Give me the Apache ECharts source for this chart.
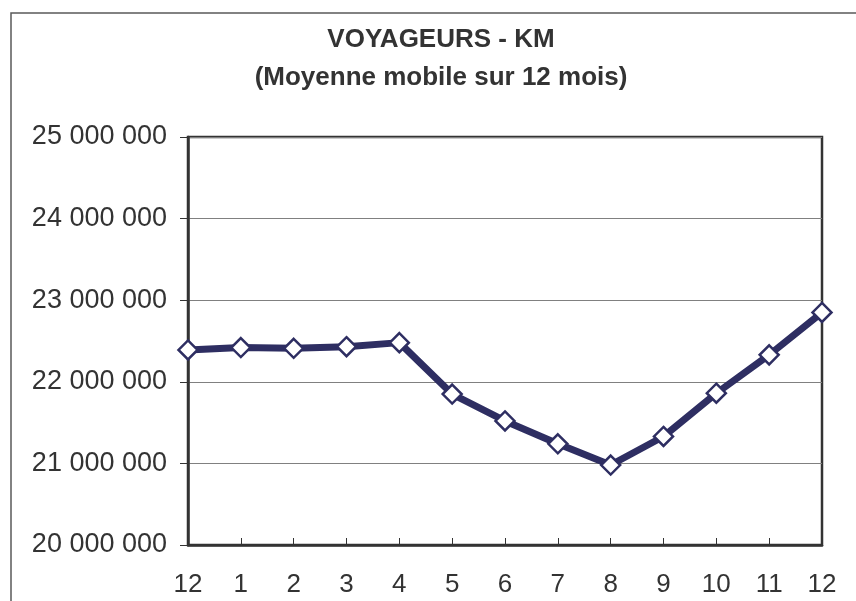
<!DOCTYPE html>
<html>
<head>
<meta charset="utf-8">
<script src="https://cdn.jsdelivr.net/npm/echarts@6/dist/echarts.min.js"></script>
<style>
  html, body { margin: 0; padding: 0; background: #fff; }
  #myChart { width: 856px; height: 601px; }
</style>
</head>
<body>
<div id="myChart"></div>
<script>
const months = ['12', '1', '2', '3', '4', '5', '6', '7', '8', '9', '10', '11', '12']
const voyageursKm = [22390000, 22420000, 22410000, 22430000, 22480000, 21850000, 21520000, 21240000, 20980000, 21330000, 21860000, 22330000, 22850000]
const yTicks = [20000000, 21000000, 22000000, 23000000, 24000000, 25000000]

const fmt = v => String(v).replace(/\B(?=(\d{3})+(?!\d))/g, ' ')

let myChart = echarts.init(document.getElementById('myChart'))
let option = {
    animation: false,
    textStyle: { fontFamily: 'Liberation Sans, Arial, sans-serif' },
    title: {
        text: 'VOYAGEURS - KM\n(Moyenne mobile sur 12 mois)',
        left: 436,
        top: 16,
        textAlign: 'center',
        textStyle: {
            fontSize: 26,
            fontWeight: 'bold',
            color: '#333',
            lineHeight: 38
        }
    },
    graphic: [
        {
            type: 'rect',
            shape: { x: 11, y: 13, width: 900, height: 700 },
            style: { fill: 'none', stroke: '#5a5a5a', lineWidth: 1.5 },
            silent: true
        }
    ],
    grid: { left: 188, right: 34, top: 137, bottom: 56, show: true, borderColor: '#333', borderWidth: 2.5 },
    xAxis: {
        type: 'category',
        data: months,
        boundaryGap: false,
        axisLine: { lineStyle: { color: '#333', width: 2.5 } },
        axisTick: { show: true, inside: true, length: 7, lineStyle: { color: '#333', width: 1 } },
        axisLabel: { color: '#333', fontSize: 26, margin: 27 },
        splitLine: { show: false }
    },
    yAxis: {
        type: 'value',
        min: yTicks[0],
        max: yTicks[yTicks.length - 1],
        interval: 1000000,
        axisLine: { show: true, lineStyle: { color: '#333', width: 2.5 } },
        axisTick: { show: true, length: 8, lineStyle: { color: '#333', width: 1 } },
        axisLabel: { color: '#333', fontSize: 27, margin: 21, formatter: v => fmt(v) },
        splitLine: { lineStyle: { color: '#808080', width: 1 } }
    },
    series: [
        {
            type: 'line',
            data: voyageursKm,
            symbol: 'diamond',
            symbolSize: 19,
            showAllSymbol: true,
            lineStyle: { color: '#2e2e62', width: 7 },
            itemStyle: { color: '#fff', borderColor: '#2e2e62', borderWidth: 2.5 },
            z: 3
        }
    ]
}
myChart.setOption(option)
</script>
</body>
</html>
